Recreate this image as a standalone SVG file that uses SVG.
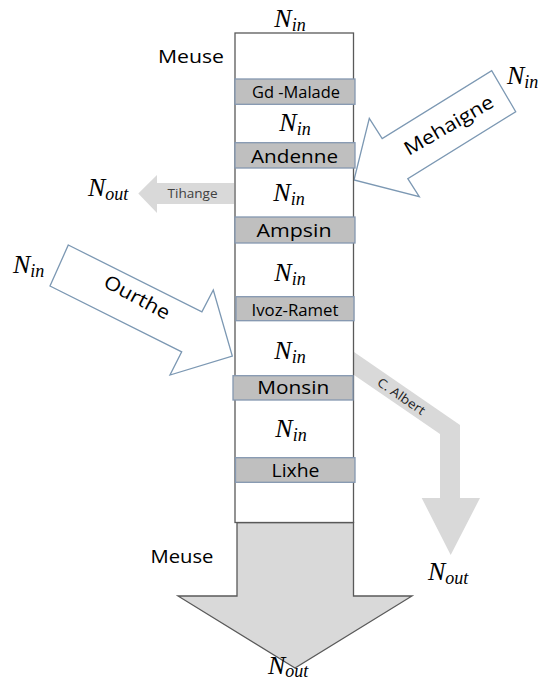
<svg xmlns="http://www.w3.org/2000/svg" width="541" height="684" viewBox="0 0 541 684">
<style>
.m{font-family:"Liberation Serif",serif;font-style:italic;font-size:26px;fill:#000}
.s{font-size:18px}
.lbl{font-family:"Open Sans","Liberation Sans",sans-serif;fill:#000;text-anchor:middle}
.bar{fill:#bfbfbf;stroke:#8497b0;stroke-width:1.3}
.flow{fill:#d9d9d9;stroke:none}
.river{fill:#fff;stroke:#7c98b3;stroke-width:1.3;stroke-linejoin:miter}
.main{fill:#fff;stroke:#595959;stroke-width:1.3}
</style>
<rect width="541" height="684" fill="#fff"/>
<g id="connectors">
  <polygon id="c-albert" class="flow" points="354,352 460,425 460,498 480,498 450.7,555 421.7,498 440,498 440,434 354,375"/>
  <polygon id="tihange" class="flow" points="234,183 157,183 157,175 138.3,193.5 157,213 157,204 234,204"/>
  <polygon id="meuse-out" fill="#d9d9d9" stroke="#595959" stroke-width="1.3" points="237,522.5 353.5,522.5 353.5,596 412,596 295,668 178,596 237,596"/>
  <polygon id="mehaigne" class="river" points="354,180 369.3,118.3 382.2,138.6 491.7,70.7 515.7,111.7 407.8,178.6 419.3,196.7"/>
  <polygon id="ourthe" class="river" points="68.3,245 201.9,311.9 213.3,290 232.3,356 170,375 181.7,351.9 50,286"/>
</g>
<g id="meuse-column">
  <rect class="main" x="235" y="33" width="118.5" height="489.5"/>
</g>
<g id="gd-malade">
  <rect class="bar" x="235" y="79" width="120" height="25.3"/>
  <text class="lbl" x="296" y="97.5" font-size="15.5" textLength="88" lengthAdjust="spacingAndGlyphs">Gd -Malade</text>
</g>
<g id="andenne">
  <rect class="bar" x="235" y="142.7" width="120" height="25.3"/>
  <text class="lbl" x="294.5" y="163.3" font-size="19" textLength="87" lengthAdjust="spacingAndGlyphs">Andenne</text>
</g>
<g id="ampsin">
  <rect class="bar" x="235" y="217" width="120" height="26"/>
  <text class="lbl" x="294" y="237" font-size="19" textLength="75" lengthAdjust="spacingAndGlyphs">Ampsin</text>
</g>
<g id="ivoz-ramet">
  <rect class="bar" x="236" y="296.7" width="118" height="24"/>
  <text class="lbl" x="295" y="315.7" font-size="16.5" textLength="87" lengthAdjust="spacingAndGlyphs">Ivoz-Ramet</text>
</g>
<g id="monsin">
  <rect class="bar" x="233" y="375.7" width="120" height="24.3"/>
  <text class="lbl" x="293.3" y="394" font-size="19" textLength="72" lengthAdjust="spacingAndGlyphs">Monsin</text>
</g>
<g id="lixhe">
  <rect class="bar" x="235.5" y="457.7" width="119.5" height="24.6"/>
  <text class="lbl" x="295.5" y="476.5" font-size="19" textLength="48" lengthAdjust="spacingAndGlyphs">Lixhe</text>
</g>
<g id="labels">
  <text class="lbl" x="191" y="63" font-size="18" textLength="66" lengthAdjust="spacingAndGlyphs">Meuse</text>
  <text class="lbl" x="182" y="563" font-size="18" textLength="63" lengthAdjust="spacingAndGlyphs">Meuse</text>
  <text class="lbl" x="192.5" y="198.3" font-size="12.5" textLength="50" lengthAdjust="spacingAndGlyphs" style="fill:#404040">Tihange</text>
  <text class="lbl" font-size="19" transform="translate(452,131) rotate(-30)" textLength="100" lengthAdjust="spacingAndGlyphs">Mehaigne</text>
  <text class="lbl" font-size="19" transform="translate(134,303) rotate(28)" textLength="72" lengthAdjust="spacingAndGlyphs">Ourthe</text>
  <text class="lbl" font-size="12.5" transform="translate(399,400) rotate(34.6)" textLength="55" lengthAdjust="spacingAndGlyphs" style="fill:#222">C. Albert</text>
</g>
<g id="quantities">
  <text class="m" x="290" y="27" text-anchor="middle">N<tspan class="s" dy="4">in</tspan></text>
  <text class="m" x="295" y="131" text-anchor="middle">N<tspan class="s" dy="4">in</tspan></text>
  <text class="m" x="289" y="201" text-anchor="middle">N<tspan class="s" dy="4">in</tspan></text>
  <text class="m" x="290" y="281" text-anchor="middle">N<tspan class="s" dy="4">in</tspan></text>
  <text class="m" x="290" y="359" text-anchor="middle">N<tspan class="s" dy="4">in</tspan></text>
  <text class="m" x="291" y="437" text-anchor="middle">N<tspan class="s" dy="4">in</tspan></text>
  <text class="m" x="507" y="84">N<tspan class="s" dy="4">in</tspan></text>
  <text class="m" x="13" y="273">N<tspan class="s" dy="4">in</tspan></text>
  <text class="m" x="88" y="196">N<tspan class="s" dy="4">out</tspan></text>
  <text class="m" x="428" y="580">N<tspan class="s" dy="4">out</tspan></text>
  <text class="m" x="268" y="674">N<tspan class="s" dy="3">out</tspan></text>
</g>
</svg>
